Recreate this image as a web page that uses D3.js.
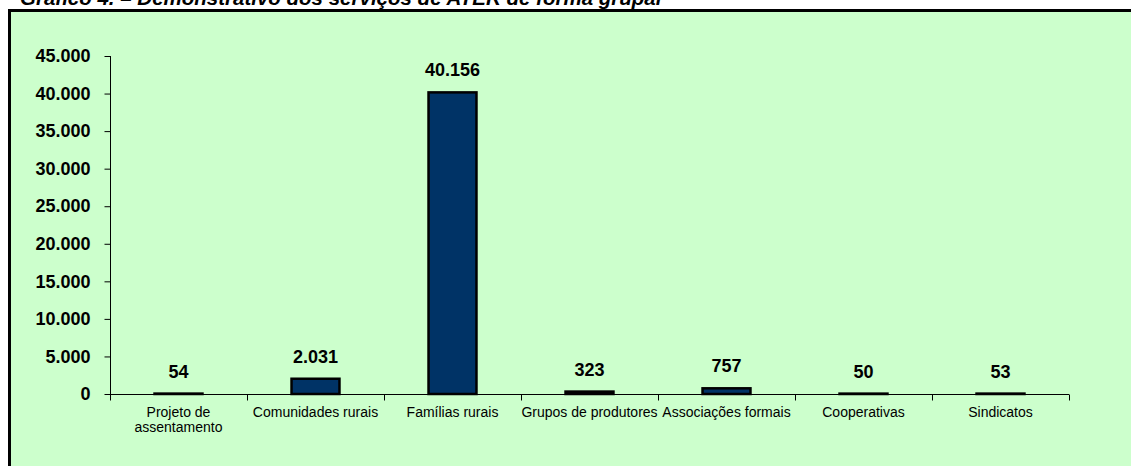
<!DOCTYPE html>
<html><head><meta charset="utf-8">
<script src="https://cdn.jsdelivr.net/npm/d3@7"></script>
<style>
html,body{margin:0;padding:0;background:#fff;}
svg{display:block;font-family:Arial,"Liberation Sans",sans-serif;}
</style></head>
<body>
<script>
const title = "Gráfico 4. – Demonstrativo dos serviços de ATER de forma grupal";
const categories = ["Projeto de|assentamento","Comunidades rurais","Famílias rurais","Grupos de produtores","Associações formais","Cooperativas","Sindicatos"];
const values = [54, 2031, 40156, 323, 757, 50, 53];
const yTicks = [0,5000,10000,15000,20000,25000,30000,35000,40000,45000];

(function(){
const W = 1131, H = 466;
const svg = d3.select("body").append("svg").attr("width", W).attr("height", H);

const locale = d3.formatLocale({decimal: ",", thousands: ".", grouping: [3], currency: ["", ""]});
const fmt = locale.format(",.0f");

// title (cut off at top, as in the reference)
svg.append("text").attr("x", 20).attr("y", 5)
  .attr("font-size", 20.5).attr("font-weight", "bold").attr("font-style", "italic")
  .text(title);

// frame
svg.append("rect").attr("x", 9.5).attr("y", 10.5).attr("width", W + 20).attr("height", H + 20)
  .attr("fill", "#CCFFCC").attr("stroke", "#000").attr("stroke-width", 3);

const pl = 110, pr = 1069, pt = 56, pb = 394;
const y = d3.scaleLinear().domain([0, 45000]).range([pb, pt]);
const x = d3.scaleBand().domain(categories).range([pl, pr]).paddingInner(0.65).paddingOuter(0.325);
const xb = d3.scaleLinear().domain([0, categories.length]).range([pl, pr]);

// y axis
const ya = svg.append("g").attr("transform", `translate(${pl + 0.5},0)`)
  .call(d3.axisLeft(y).tickValues(yTicks).tickSize(6).tickPadding(14).tickFormat(fmt));
ya.select(".domain").attr("stroke", "#000").attr("d", `M0,${pt}V${pb}`);
ya.selectAll(".tick line").attr("stroke", "#000");
ya.selectAll(".tick text").attr("font-size", 18).attr("font-weight", "bold")
  .attr("font-family", "Arial,'Liberation Sans',sans-serif").attr("fill", "#000");

// x axis
const xa = svg.append("g").attr("transform", `translate(0,${pb + 0.5})`);
xa.append("path").attr("d", `M${pl},0H${pr}`).attr("stroke", "#000").attr("fill", "none");
xa.selectAll("line.bt").data(d3.range(categories.length + 1)).join("line")
  .attr("x1", d => Math.round(xb(d)) + 0.5).attr("x2", d => Math.round(xb(d)) + 0.5)
  .attr("y1", 0).attr("y2", 6).attr("stroke", "#000");

// bars
svg.selectAll("rect.bar").data(values).join("rect").attr("class", "bar")
  .attr("x", (d, i) => x(categories[i]))
  .attr("width", x.bandwidth())
  .attr("y", d => y(d))
  .attr("height", d => pb - y(d))
  .attr("fill", "#003366").attr("stroke", "#000").attr("stroke-width", 2.5);

// value labels
svg.selectAll("text.val").data(values).join("text").attr("class", "val")
  .attr("x", (d, i) => x(categories[i]) + x.bandwidth() / 2)
  .attr("y", d => y(d) - 16)
  .attr("text-anchor", "middle").attr("font-size", 18).attr("font-weight", "bold")
  .text(d => fmt(d));

// category labels
const cl = svg.selectAll("text.cat").data(categories).join("text").attr("class", "cat")
  .attr("x", d => x(d) + x.bandwidth() / 2)
  .attr("y", pb + 23)
  .attr("text-anchor", "middle").attr("font-size", 14).attr("fill", "#000");
cl.selectAll("tspan").data(d => d.split("|")).join("tspan")
  .attr("x", function(){ return this.parentNode.getAttribute("x"); })
  .attr("dy", (d, i) => i === 0 ? 0 : 15)
  .text(d => d);
})();
</script>
</body></html>
